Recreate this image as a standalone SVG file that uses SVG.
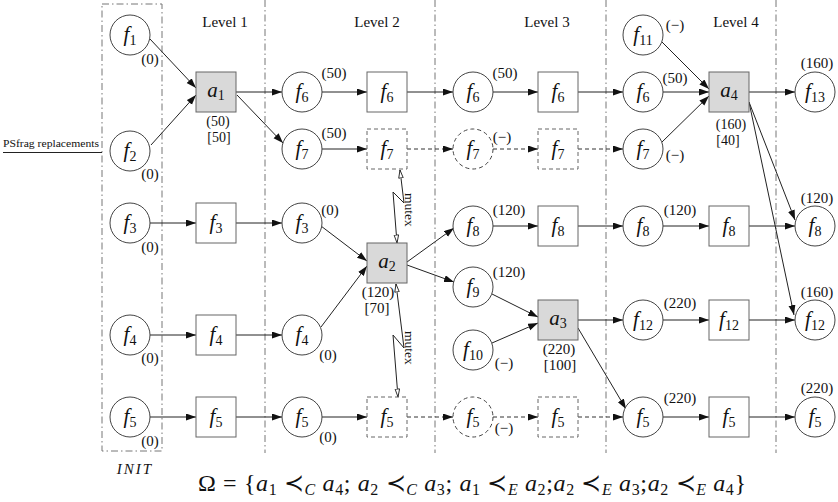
<svg xmlns="http://www.w3.org/2000/svg" width="838" height="502" viewBox="0 0 838 502">
<style>
text{font-family:"Liberation Serif","Times New Roman","DejaVu Serif",serif;fill:#111}
.c{fill:#fff;stroke:#444;stroke-width:1}
.b{fill:#fff;stroke:#666;stroke-width:1}
.g{fill:#d9d9d9;stroke:#666;stroke-width:1}
.d{stroke-dasharray:4,3}
.dv{fill:none;stroke:#777;stroke-width:1;stroke-dasharray:7,3,1.5,3}
.e{fill:none;stroke:#222;stroke-width:1;marker-end:url(#ah)}
.ed{fill:none;stroke:#333;stroke-width:1;stroke-dasharray:4,3;marker-end:url(#ah)}
.mx{fill:none;stroke:#222;stroke-width:1;marker-start:url(#oh);marker-end:url(#oh)}
.nl{font-size:21px;text-anchor:middle}
.i{font-style:italic}
.s{font-size:14px}
.v{font-size:15px;text-anchor:middle}
.w{font-size:14px;text-anchor:middle}
.lv{font-size:15px;text-anchor:middle}
</style>
<defs>
<marker id="ah" markerUnits="userSpaceOnUse" markerWidth="11" markerHeight="8" refX="10" refY="3.5" orient="auto"><path d="M0,0 L10,3.5 L0,7 z" fill="#111"/></marker>
<marker id="oh" markerUnits="userSpaceOnUse" markerWidth="10" markerHeight="7" refX="8.5" refY="2.75" orient="auto-start-reverse"><path d="M0.5,0.5 L8.5,2.75 L0.5,5 z" fill="#fff" stroke="#222" stroke-width="0.9"/></marker>
</defs>

<g id="frame">
<rect class="dv" x="102" y="4" width="60" height="447"/>
<line class="dv" x1="265" y1="0" x2="265" y2="453"/>
<line class="dv" x1="435" y1="0" x2="435" y2="453"/>
<line class="dv" x1="606" y1="0" x2="606" y2="453"/>
<line class="dv" x1="776" y1="0" x2="776" y2="453"/>
<text class="lv" x="225" y="27">Level 1</text>
<text class="lv" x="377" y="27">Level 2</text>
<text class="lv" x="547" y="27">Level 3</text>
<text class="lv" x="736" y="27">Level 4</text>
<text class="i" x="135" y="474" font-size="15" text-anchor="middle" letter-spacing="2">INIT</text>
<text x="3" y="147" font-size="11" textLength="96" lengthAdjust="spacingAndGlyphs">PSfrag replacements</text>
<line x1="3" y1="152.5" x2="102" y2="152.5" stroke="#222" stroke-width="1"/>
</g>

<g id="connectors">
<path class="e" d="M150,39 L196,88"/>
<path class="e" d="M151,145 L196,95"/>
<path class="e" d="M236,92 L282,92"/>
<path class="e" d="M237,95 L283,143"/>
<path class="e" d="M322,92 L367,92"/>
<path class="e" d="M407,92 L453,92"/>
<path class="e" d="M493,92 L538,92"/>
<path class="e" d="M578,92 L623,92"/>
<path class="e" d="M663,92 L709,92"/>
<path class="e" d="M662,42 L709,89"/>
<path class="e" d="M662,142 L709,96"/>
<path class="e" d="M749,92 L795,92"/>
<path class="e" d="M749,102 L795,220"/>
<path class="e" d="M749,102 L794,315"/>
<path class="e" d="M322,149 L367,149"/>
<path class="ed" d="M407,149 L453,149"/>
<path class="ed" d="M493,149 L538,149"/>
<path class="ed" d="M578,149 L623,149"/>
<path class="e" d="M150,223 L196,223"/>
<path class="e" d="M236,223 L282,223"/>
<path class="e" d="M321,226 L367,261"/>
<path class="e" d="M321,327 L367,266"/>
<path class="e" d="M407,262 L454,228"/>
<path class="e" d="M407,265 L454,282"/>
<path class="e" d="M493,226 L538,226"/>
<path class="e" d="M578,226 L623,226"/>
<path class="e" d="M663,226 L709,226"/>
<path class="e" d="M749,226 L795,226"/>
<path class="e" d="M492,294 L538,317"/>
<path class="e" d="M492,343 L538,323"/>
<path class="e" d="M578,320 L623,320"/>
<path class="e" d="M578,328 L626,409"/>
<path class="e" d="M663,320 L709,320"/>
<path class="e" d="M749,320 L795,320"/>
<path class="e" d="M150,335 L196,335"/>
<path class="e" d="M236,335 L282,335"/>
<path class="e" d="M150,417 L196,417"/>
<path class="e" d="M236,417 L282,417"/>
<path class="e" d="M322,417 L367,417"/>
<path class="ed" d="M407,417 L453,417"/>
<path class="ed" d="M493,417 L538,417"/>
<path class="ed" d="M578,417 L623,417"/>
<path class="e" d="M663,417 L709,417"/>
<path class="e" d="M749,417 L795,417"/>
<polyline class="mx" points="400,170 404,203 393,192 397,243"/>
<polyline class="mx" points="396,284 404,348 393,335 398,397"/>
<text font-size="13.5" transform="translate(405,193) rotate(90)">mutex</text>
<text font-size="13.5" transform="translate(405,331) rotate(90)">mutex</text>
</g>

<!-- INIT -->
<g id="init-f1"><circle class="c" cx="130" cy="35" r="20"/><text class="nl" x="130" y="41"><tspan class="i">f</tspan><tspan class="s" dy="4">1</tspan></text><text class="v" x="150" y="64">(0)</text></g>
<g id="init-f2"><circle class="c" cx="130" cy="151" r="20"/><text class="nl" x="130" y="157"><tspan class="i">f</tspan><tspan class="s" dy="4">2</tspan></text><text class="v" x="150" y="179">(0)</text></g>
<g id="init-f3"><circle class="c" cx="130" cy="223" r="20"/><text class="nl" x="130" y="229"><tspan class="i">f</tspan><tspan class="s" dy="4">3</tspan></text><text class="v" x="150" y="252">(0)</text></g>
<g id="init-f4"><circle class="c" cx="130" cy="335" r="20"/><text class="nl" x="130" y="341"><tspan class="i">f</tspan><tspan class="s" dy="4">4</tspan></text><text class="v" x="150" y="363">(0)</text></g>
<g id="init-f5"><circle class="c" cx="130" cy="417" r="20"/><text class="nl" x="130" y="423"><tspan class="i">f</tspan><tspan class="s" dy="4">5</tspan></text><text class="v" x="150" y="446">(0)</text></g>

<!-- Level 1 boxes -->
<g id="a1"><rect class="g" x="196" y="72" width="40" height="40"/><text class="nl" x="216" y="97"><tspan class="i">a</tspan><tspan class="s" dy="3">1</tspan></text><text class="w" x="218" y="126">(50)</text><text class="w" x="219" y="142">[50]</text></g>
<g id="l1-f3"><rect class="b" x="196" y="203" width="40" height="40"/><text class="nl" x="216" y="229"><tspan class="i">f</tspan><tspan class="s" dy="4">3</tspan></text></g>
<g id="l1-f4"><rect class="b" x="196" y="315" width="40" height="40"/><text class="nl" x="216" y="341"><tspan class="i">f</tspan><tspan class="s" dy="4">4</tspan></text></g>
<g id="l1-f5"><rect class="b" x="196" y="397" width="40" height="40"/><text class="nl" x="216" y="423"><tspan class="i">f</tspan><tspan class="s" dy="4">5</tspan></text></g>

<!-- Level 2 circles -->
<g id="l2c-f6"><circle class="c" cx="302" cy="92" r="20"/><text class="nl" x="302" y="98"><tspan class="i">f</tspan><tspan class="s" dy="4">6</tspan></text><text class="v" x="334" y="78">(50)</text></g>
<g id="l2c-f7"><circle class="c" cx="302" cy="149" r="20"/><text class="nl" x="302" y="155"><tspan class="i">f</tspan><tspan class="s" dy="4">7</tspan></text><text class="v" x="334" y="138">(50)</text></g>
<g id="l2c-f3"><circle class="c" cx="302" cy="223" r="20"/><text class="nl" x="302" y="229"><tspan class="i">f</tspan><tspan class="s" dy="4">3</tspan></text><text class="v" x="330" y="215">(0)</text></g>
<g id="l2c-f4"><circle class="c" cx="302" cy="335" r="20"/><text class="nl" x="302" y="341"><tspan class="i">f</tspan><tspan class="s" dy="4">4</tspan></text><text class="v" x="328" y="360">(0)</text></g>
<g id="l2c-f5"><circle class="c" cx="302" cy="417" r="20"/><text class="nl" x="302" y="423"><tspan class="i">f</tspan><tspan class="s" dy="4">5</tspan></text><text class="v" x="328" y="442">(0)</text></g>

<!-- Level 2 boxes -->
<g id="l2b-f6"><rect class="b" x="367" y="72" width="40" height="40"/><text class="nl" x="387" y="98"><tspan class="i">f</tspan><tspan class="s" dy="4">6</tspan></text></g>
<g id="l2b-f7"><rect class="b d" x="367" y="129" width="40" height="40"/><text class="nl" x="387" y="155"><tspan class="i">f</tspan><tspan class="s" dy="4">7</tspan></text></g>
<g id="a2"><rect class="g" x="367" y="243" width="40" height="40"/><text class="nl" x="387" y="268"><tspan class="i">a</tspan><tspan class="s" dy="3">2</tspan></text><text class="v" x="378" y="297">(120)</text><text class="v" x="377" y="313">[70]</text></g>
<g id="l2b-f5"><rect class="b d" x="367" y="397" width="40" height="40"/><text class="nl" x="387" y="423"><tspan class="i">f</tspan><tspan class="s" dy="4">5</tspan></text></g>

<!-- Level 3 circles -->
<g id="l3c-f6"><circle class="c" cx="473" cy="92" r="20"/><text class="nl" x="473" y="98"><tspan class="i">f</tspan><tspan class="s" dy="4">6</tspan></text><text class="v" x="505" y="78">(50)</text></g>
<g id="l3c-f7"><circle class="c d" cx="473" cy="149" r="20"/><text class="nl" x="473" y="155"><tspan class="i">f</tspan><tspan class="s" dy="4">7</tspan></text><text class="v" x="502" y="142">(−)</text></g>
<g id="l3c-f8"><circle class="c" cx="473" cy="226" r="20"/><text class="nl" x="473" y="232"><tspan class="i">f</tspan><tspan class="s" dy="4">8</tspan></text><text class="v" x="509" y="215">(120)</text></g>
<g id="l3c-f9"><circle class="c" cx="473" cy="287" r="20"/><text class="nl" x="473" y="293"><tspan class="i">f</tspan><tspan class="s" dy="4">9</tspan></text><text class="v" x="509" y="277">(120)</text></g>
<g id="l3c-f10"><circle class="c" cx="473" cy="350" r="20"/><text class="nl" x="473" y="356"><tspan class="i">f</tspan><tspan class="s" dy="4">10</tspan></text><text class="v" x="504" y="368">(−)</text></g>
<g id="l3c-f5"><circle class="c d" cx="473" cy="417" r="20"/><text class="nl" x="473" y="423"><tspan class="i">f</tspan><tspan class="s" dy="4">5</tspan></text><text class="v" x="504" y="433">(−)</text></g>

<!-- Level 3 boxes -->
<g id="l3b-f6"><rect class="b" x="538" y="72" width="40" height="40"/><text class="nl" x="558" y="98"><tspan class="i">f</tspan><tspan class="s" dy="4">6</tspan></text></g>
<g id="l3b-f7"><rect class="b d" x="538" y="129" width="40" height="40"/><text class="nl" x="558" y="155"><tspan class="i">f</tspan><tspan class="s" dy="4">7</tspan></text></g>
<g id="l3b-f8"><rect class="b" x="538" y="206" width="40" height="40"/><text class="nl" x="558" y="232"><tspan class="i">f</tspan><tspan class="s" dy="4">8</tspan></text></g>
<g id="a3"><rect class="g" x="538" y="300" width="40" height="40"/><text class="nl" x="558" y="325"><tspan class="i">a</tspan><tspan class="s" dy="3">3</tspan></text><text class="v" x="559" y="354">(220)</text><text class="v" x="560" y="370">[100]</text></g>
<g id="l3b-f5"><rect class="b d" x="538" y="397" width="40" height="40"/><text class="nl" x="558" y="423"><tspan class="i">f</tspan><tspan class="s" dy="4">5</tspan></text></g>

<!-- Level 4 circles -->
<g id="l4c-f11"><circle class="c" cx="643" cy="35" r="20"/><text class="nl" x="643" y="41"><tspan class="i">f</tspan><tspan class="s" dy="4">11</tspan></text><text class="v" x="675" y="30">(−)</text></g>
<g id="l4c-f6"><circle class="c" cx="643" cy="92" r="20"/><text class="nl" x="643" y="98"><tspan class="i">f</tspan><tspan class="s" dy="4">6</tspan></text><text class="v" x="675" y="83">(50)</text></g>
<g id="l4c-f7"><circle class="c" cx="643" cy="149" r="20"/><text class="nl" x="643" y="155"><tspan class="i">f</tspan><tspan class="s" dy="4">7</tspan></text><text class="v" x="675" y="160">(−)</text></g>
<g id="l4c-f8"><circle class="c" cx="643" cy="226" r="20"/><text class="nl" x="643" y="232"><tspan class="i">f</tspan><tspan class="s" dy="4">8</tspan></text><text class="v" x="680" y="215">(120)</text></g>
<g id="l4c-f12"><circle class="c" cx="643" cy="320" r="20"/><text class="nl" x="643" y="326"><tspan class="i">f</tspan><tspan class="s" dy="4">12</tspan></text><text class="v" x="680" y="308">(220)</text></g>
<g id="l4c-f5"><circle class="c" cx="643" cy="417" r="20"/><text class="nl" x="643" y="423"><tspan class="i">f</tspan><tspan class="s" dy="4">5</tspan></text><text class="v" x="680" y="403">(220)</text></g>

<!-- Level 4 boxes -->
<g id="a4"><rect class="g" x="709" y="72" width="40" height="40"/><text class="nl" x="729" y="97"><tspan class="i">a</tspan><tspan class="s" dy="3">4</tspan></text><text class="w" x="731" y="129">(160)</text><text class="w" x="728" y="145">[40]</text></g>
<g id="l4b-f8"><rect class="b" x="709" y="206" width="40" height="40"/><text class="nl" x="729" y="232"><tspan class="i">f</tspan><tspan class="s" dy="4">8</tspan></text></g>
<g id="l4b-f12"><rect class="b" x="709" y="300" width="40" height="40"/><text class="nl" x="729" y="326"><tspan class="i">f</tspan><tspan class="s" dy="4">12</tspan></text></g>
<g id="l4b-f5"><rect class="b" x="709" y="397" width="40" height="40"/><text class="nl" x="729" y="423"><tspan class="i">f</tspan><tspan class="s" dy="4">5</tspan></text></g>

<!-- Final circles -->
<g id="fin-f13"><circle class="c" cx="815" cy="92" r="20"/><text class="nl" x="815" y="98"><tspan class="i">f</tspan><tspan class="s" dy="4">13</tspan></text><text class="v" x="817" y="68">(160)</text></g>
<g id="fin-f8"><circle class="c" cx="815" cy="226" r="20"/><text class="nl" x="815" y="232"><tspan class="i">f</tspan><tspan class="s" dy="4">8</tspan></text><text class="v" x="817" y="203">(120)</text></g>
<g id="fin-f12"><circle class="c" cx="815" cy="320" r="20"/><text class="nl" x="815" y="326"><tspan class="i">f</tspan><tspan class="s" dy="4">12</tspan></text><text class="v" x="817" y="297">(160)</text></g>
<g id="fin-f5"><circle class="c" cx="815" cy="417" r="20"/><text class="nl" x="815" y="423"><tspan class="i">f</tspan><tspan class="s" dy="4">5</tspan></text><text class="v" x="817" y="393">(220)</text></g>

<g id="formula">
<text x="198" y="491" font-size="24" textLength="548" lengthAdjust="spacing">Ω = {<tspan class="i">a</tspan><tspan font-size="16" dy="4">1</tspan><tspan dy="-4"> ≺</tspan><tspan class="i" font-size="16" dy="4">C</tspan><tspan class="i" dy="-4"> a</tspan><tspan font-size="16" dy="4">4</tspan><tspan dy="-4">; </tspan><tspan class="i">a</tspan><tspan font-size="16" dy="4">2</tspan><tspan dy="-4"> ≺</tspan><tspan class="i" font-size="16" dy="4">C</tspan><tspan class="i" dy="-4"> a</tspan><tspan font-size="16" dy="4">3</tspan><tspan dy="-4">; </tspan><tspan class="i">a</tspan><tspan font-size="16" dy="4">1</tspan><tspan dy="-4"> ≺</tspan><tspan class="i" font-size="16" dy="4">E</tspan><tspan class="i" dy="-4"> a</tspan><tspan font-size="16" dy="4">2</tspan><tspan dy="-4">;</tspan><tspan class="i">a</tspan><tspan font-size="16" dy="4">2</tspan><tspan dy="-4"> ≺</tspan><tspan class="i" font-size="16" dy="4">E</tspan><tspan class="i" dy="-4"> a</tspan><tspan font-size="16" dy="4">3</tspan><tspan dy="-4">;</tspan><tspan class="i">a</tspan><tspan font-size="16" dy="4">2</tspan><tspan dy="-4"> ≺</tspan><tspan class="i" font-size="16" dy="4">E</tspan><tspan class="i" dy="-4"> a</tspan><tspan font-size="16" dy="4">4</tspan><tspan dy="-4">}</tspan></text>
</g>
</svg>
